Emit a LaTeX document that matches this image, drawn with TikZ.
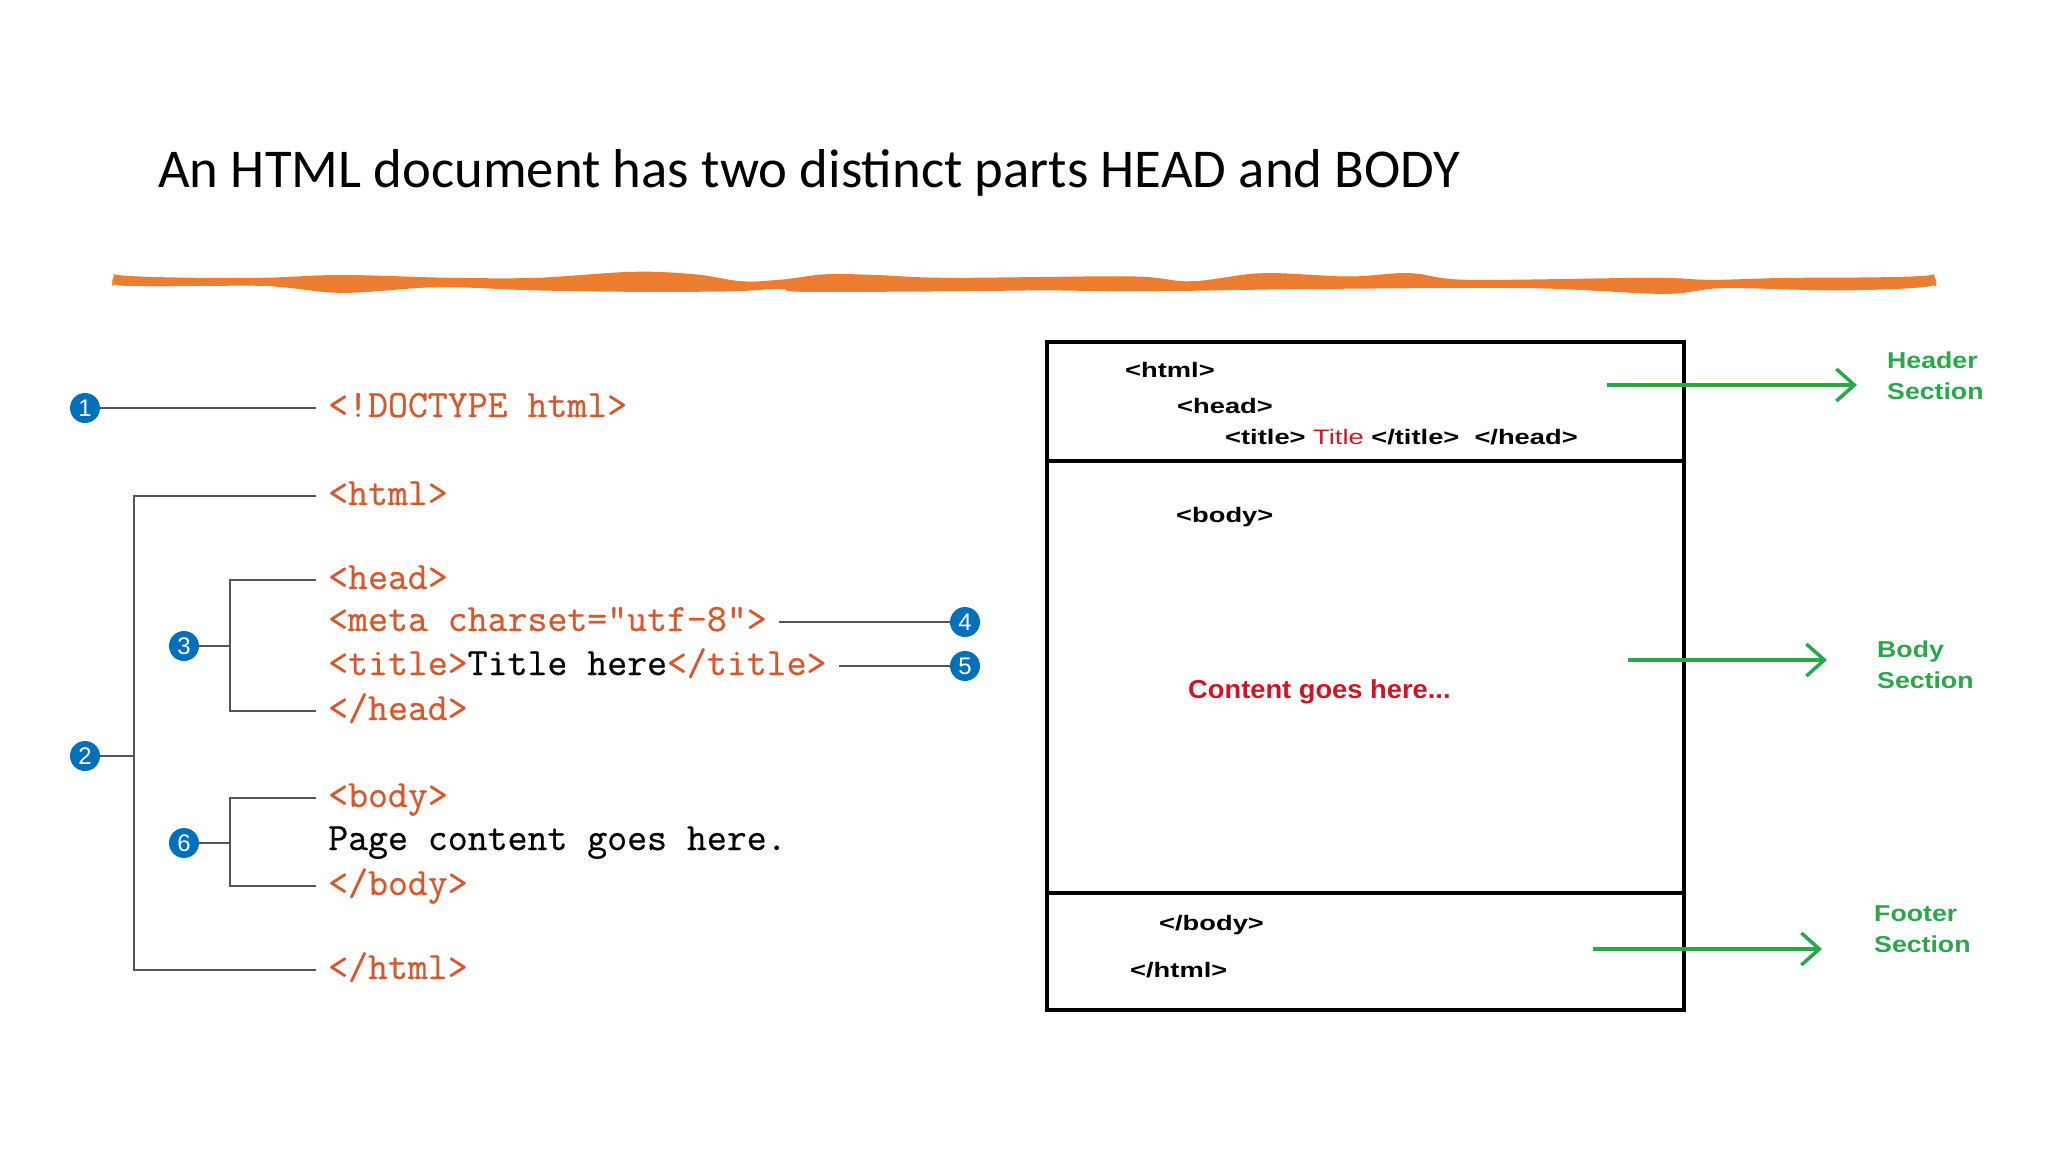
\documentclass[tikz,border=0pt]{standalone}
\usepackage{fontspec}
\setmainfont{Carlito}
\newfontfamily\codefont[FakeBold=0.6]{Latin Modern Mono}
\newfontfamily\boxfont[FakeStretch=1.3]{Liberation Sans}
\newfontfamily\contentfont[FakeStretch=1.05]{Liberation Sans}
\newfontfamily\lblfont[FakeStretch=1.16]{Liberation Sans}
\newfontfamily\numfont{Liberation Sans}
\usetikzlibrary{arrows.meta}

\definecolor{codeorange}{RGB}{214,88,44}
\definecolor{ruleorange}{RGB}{237,125,49}
\definecolor{numblue}{RGB}{0,112,186}
\definecolor{secgreen}{RGB}{40,168,72}
\definecolor{tagred}{RGB}{208,20,36}
\definecolor{bracketgray}{RGB}{85,85,85}

\begin{document}
\begin{tikzpicture}[x=1pt, y=-1pt,
    code/.style={anchor=west, inner xsep=12pt, inner ysep=0pt, text height=20pt, text depth=2pt,
        font=\codefont\fontsize{38.7}{40}\selectfont, text=codeorange},
    num/.style={circle, fill=numblue, text=white, minimum size=30pt, inner sep=0pt,
        font=\numfont\fontsize{24}{24}\selectfont},
    bracket/.style={draw=bracketgray, line width=2pt},
    tag/.style={anchor=base west, inner sep=0pt, font=\boxfont\bfseries\fontsize{21}{21}\selectfont},
    section/.style={anchor=west, inner sep=0pt, align=left, text=secgreen,
        font=\lblfont\bfseries\fontsize{23}{31}\selectfont},
    sectarrow/.style={draw=secgreen, line width=3.5pt, -{Straight Barb[length=18pt, width=32pt]}}]
    \useasboundingbox (0,0) rectangle (2048,1152);

    % Title and rule
    \node[anchor=base west, inner sep=0pt, font=\fontsize{54.7}{60}\selectfont] (title) at (158,187)
        {An HTML document has two distinct parts HEAD and BODY};
    \fill[ruleorange, rounded corners=4pt] (111,283) -- plot[smooth] coordinates {(114,277.8) (258,277.8)
        (342,275) (451,277.8) (536,277.8) (633,271.8) (694,274.2) (742,281.2) (779,279.8) (827,274.2)
        (876,275) (948,277.8) (1130,276.4) (1191,281.2) (1263,273.2) (1348,276.4) (1409,273.2)
        (1469,279.8) (1651,277.8) (1712,279.8) (1796,277.8) (1934,278)}
        -- (1938,283)
        -- plot[smooth] coordinates {(1934,288.6) (1833,290.4) (1724,288.2) (1663,293.8) (1530,288.2)
        (1312,289) (1142,291.4) (1045,290.4) (948,291.4) (803,291.8) (779,289) (730,291.4) (633,291.8)
        (536,290.4) (439,287.2) (342,292.8) (258,285.8) (114,288.2)} -- cycle;

    % Source lines
    \node[code] (tDoctype) at (316,408) {<!DOCTYPE html>};
    \node[code] (tHtml) at (316,496) {<html>};
    \node[code] (tHead) at (316,580) {<head>};
    \node[code] (tMeta) at (316,622) {<meta charset="utf-8">};
    \node[code] (tTitle) at (316,666) {<title>\textcolor{black}{Title here}</title>};
    \node[code] (tEndHead) at (316,711) {</head>};
    \node[code] (tBody) at (316,798) {<body>};
    \node[code, text=black] (tPage) at (316,841) {Page content goes here.};
    \node[code] (tEndBody) at (316,886) {</body>};
    \node[code] (tEndHtml) at (316,970) {</html>};

    % Numbered markers
    \node[num] (c1) at (85,408) {1};
    \node[num] (c2) at (85,756) {2};
    \node[num] (c3) at (184,646) {3};
    \node[num] (c4) at (965,622) {4};
    \node[num] (c5) at (965,666) {5};
    \node[num] (c6) at (184,843) {6};
    \coordinate (spine2) at (134,756);
    \coordinate (spine3) at (230,646);
    \coordinate (spine6) at (230,843);

    % Brackets
    \draw[bracket] (c1) -- (tDoctype.west);
    \draw[bracket] (c2) -- (spine2);
    \draw[bracket] (tHtml.west) -- (tHtml.west -| spine2) |- (tEndHtml.west);
    \draw[bracket] (c3) -- (spine3);
    \draw[bracket] (tHead.west) -- (tHead.west -| spine3) |- (tEndHead.west);
    \draw[bracket] (c6) -- (spine6);
    \draw[bracket] (tBody.west) -- (tBody.west -| spine6) |- (tEndBody.west);
    \draw[bracket] (tMeta.east) -- (c4);
    \draw[bracket] (tTitle.east) -- (c5);

    % Page layout box
    \draw[line width=4pt] (1047,342) rectangle (1684,1010);
    \draw[line width=4pt] (1047,461) -- (1684,461);
    \draw[line width=4pt] (1047,893) -- (1684,893);
    \node[tag] (bHtml) at (1125,377) {<html>};
    \node[tag] (bHead) at (1177,413) {<head>};
    \node[tag] (bTitle) at (1225,444) {<title> \textcolor{tagred}{\mdseries Title} </title>~~</head>};
    \node[tag] (bBody) at (1176,522) {<body>};
    \node[anchor=base west, inner sep=0pt, text=tagred, font=\contentfont\bfseries\fontsize{26}{26}\selectfont]
        (bContent) at (1188,698) {Content goes here...};
    \node[tag] (bEndBody) at (1159,930) {</body>};
    \node[tag] (bEndHtml) at (1130,977) {</html>};

    % Section arrows
    \coordinate (hdrA) at (1607,385);
    \coordinate (hdrB) at (1857,385);
    \coordinate (bodA) at (1628,660);
    \coordinate (bodB) at (1827,660);
    \coordinate (ftrA) at (1593,949);
    \coordinate (ftrB) at (1822,949);
    \draw[sectarrow] (hdrA) -- (hdrB);
    \draw[sectarrow] (bodA) -- (bodB);
    \draw[sectarrow] (ftrA) -- (ftrB);
    \node[section] (lHeader) at (1887,376) {Header\\Section};
    \node[section] (lBody) at (1877,665) {Body\\Section};
    \node[section] (lFooter) at (1874,929) {Footer\\Section};
\end{tikzpicture}
\end{document}
